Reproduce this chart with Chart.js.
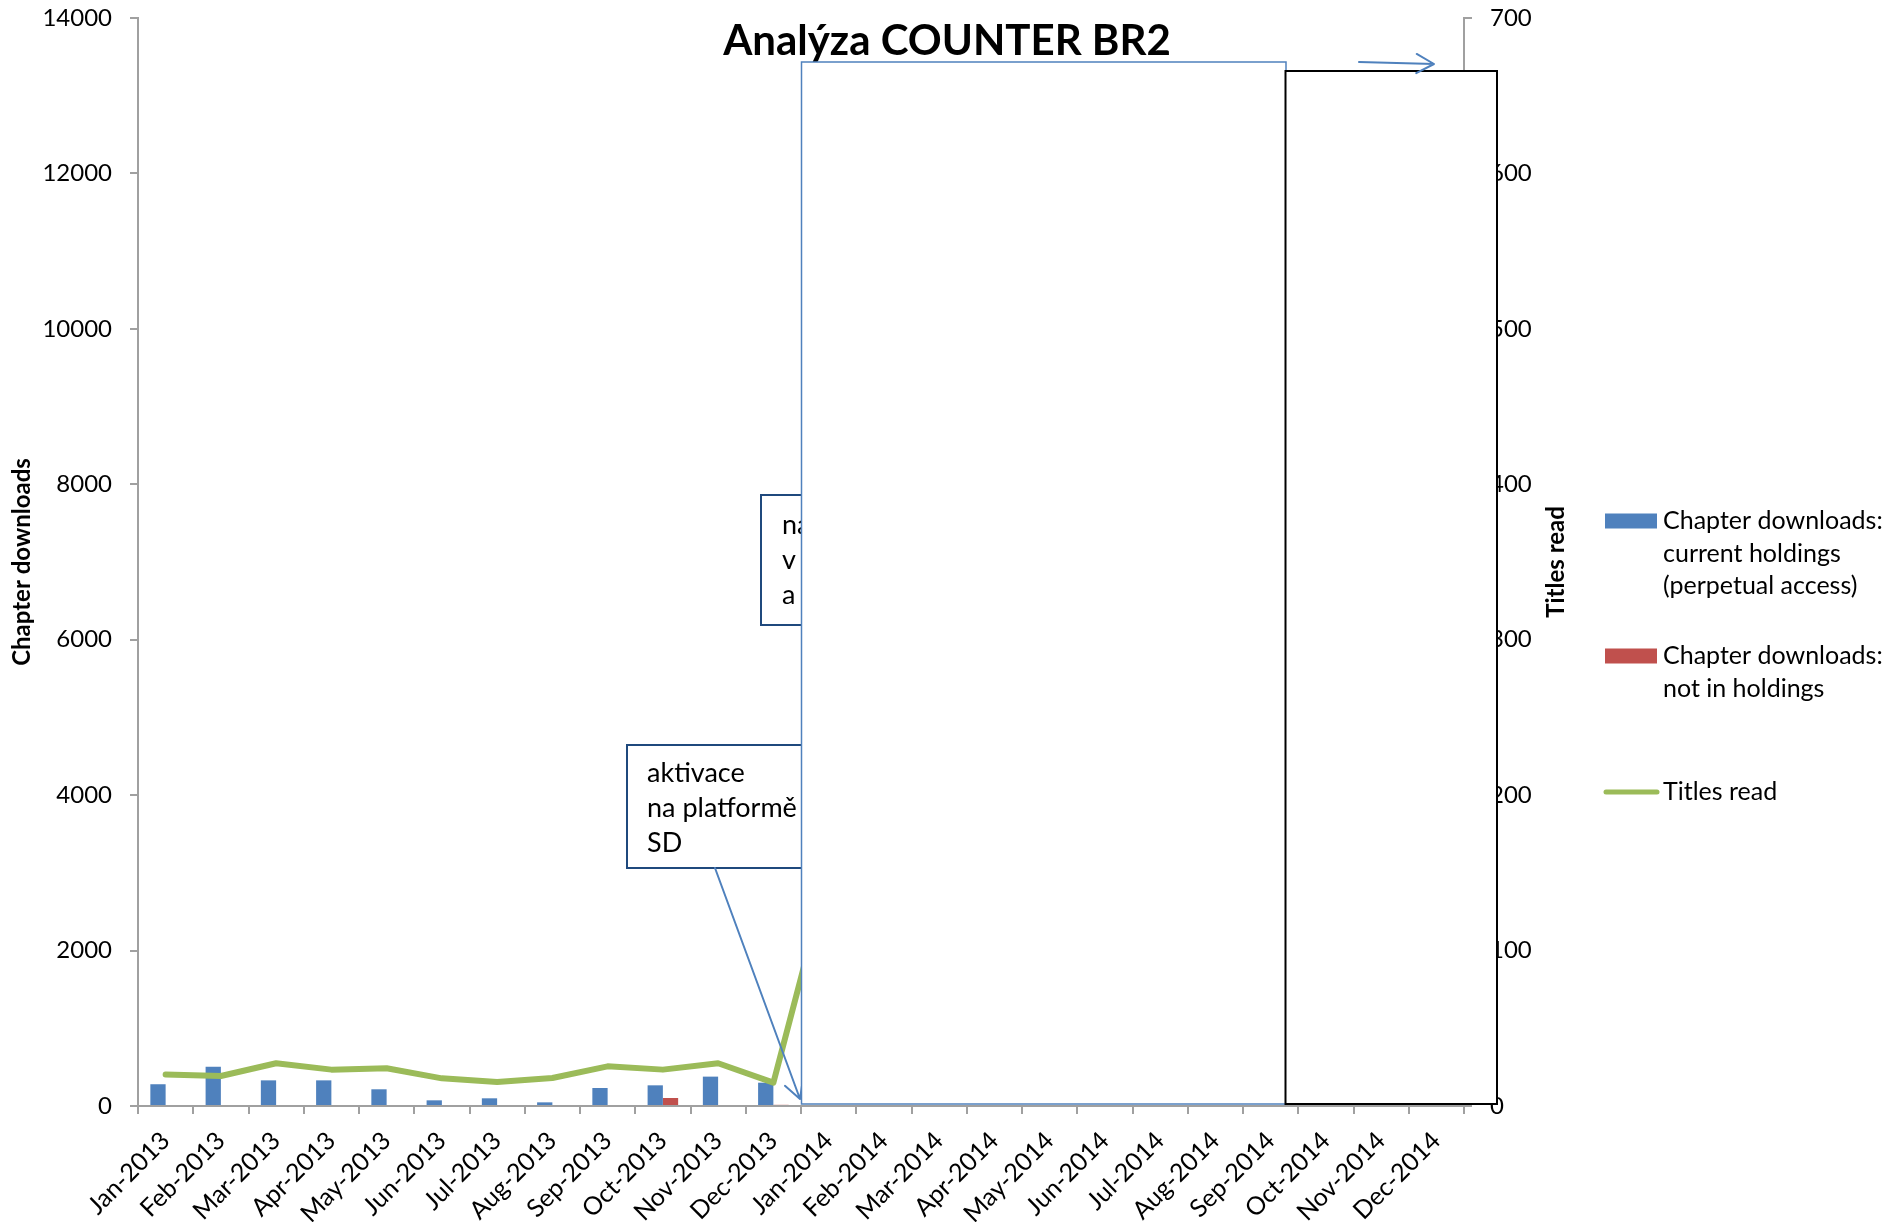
<!DOCTYPE html>
<html>
<head>
<meta charset="utf-8">
<script src="https://cdn.jsdelivr.net/npm/chart.js@4.4.0/dist/chart.umd.min.js"></script>
<style>
  html, body { margin: 0; padding: 0; background: #ffffff; }
  #wrap { width: 1887px; height: 1222px; position: relative; }
</style>
</head>
<body>
<div id="wrap"><canvas id="c" width="1887" height="1222"></canvas></div>
<script>
// ---- data ----
const categories = [
  'Jan-2013','Feb-2013','Mar-2013','Apr-2013','May-2013','Jun-2013',
  'Jul-2013','Aug-2013','Sep-2013','Oct-2013','Nov-2013','Dec-2013',
  'Jan-2014','Feb-2014','Mar-2014','Apr-2014','May-2014','Jun-2014',
  'Jul-2014','Aug-2014','Sep-2014','Oct-2014','Nov-2014','Dec-2014'
];
// Chapter downloads: current holdings (perpetual access) – 2014 hidden under the white boxes
const currentHoldings = [280, 505, 330, 330, 215, 73, 99, 47, 232, 266, 378, 300,
  null, null, null, null, null, null, null, null, null, null, null, null];
// Chapter downloads: not in holdings
const notInHoldings = [0, 0, 0, 0, 0, 0, 0, 0, 0, 103, 0, 15,
  null, null, null, null, null, null, null, null, null, null, null, null];
// Titles read (right axis)
const titlesRead = [20.2, 19.3, 27.5, 23.4, 24.3, 17.8, 15.5, 18, 25.5, 23.4, 27.5, 15,
  150, null, null, null, null, null, null, null, null, null, null, null];

const leftMax = 14000, leftStep = 2000;
const rightMax = 700, rightStep = 100;

const chartTitle = 'Analýza COUNTER BR2';
const leftAxisTitle = 'Chapter downloads';
const rightAxisTitle = 'Titles read';
const legendItems = [
  { lines: ['Chapter downloads:', 'current holdings', '(perpetual access)'], kind: 'bar', color: '#4F81BD' },
  { lines: ['Chapter downloads:', 'not in holdings'], kind: 'bar', color: '#C0504D' },
  { lines: ['Titles read'], kind: 'line', color: '#9BBB59' }
];
const callout1Lines = ['na', 'v', 'a'];
const callout2Lines = ['aktivace', 'na platformě', 'SD'];

// ---- styling ----
const FONT = 'Lato, "Open Sans", sans-serif';
const AXIS_GRAY = '#A0A0A0';
Chart.defaults.font.family = FONT;
Chart.defaults.color = '#000';

function arrow(ctx, x1, y1, x2, y2, wing, color, width) {
  ctx.save();
  ctx.strokeStyle = color;
  ctx.lineWidth = width;
  ctx.lineCap = 'round';
  ctx.lineJoin = 'round';
  ctx.beginPath();
  ctx.moveTo(x1, y1);
  ctx.lineTo(x2, y2);
  const a = Math.atan2(y2 - y1, x2 - x1);
  const spread = 0.5;
  ctx.moveTo(x2 - wing * Math.cos(a - spread), y2 - wing * Math.sin(a - spread));
  ctx.lineTo(x2, y2);
  ctx.lineTo(x2 - wing * Math.cos(a + spread), y2 - wing * Math.sin(a + spread));
  ctx.stroke();
  ctx.restore();
}

function boxWithText(ctx, x, y, w, h, lines, tx, ty0, dy, stroke, lw, size) {
  ctx.save();
  ctx.fillStyle = '#fff';
  ctx.fillRect(x, y, w, h);
  ctx.strokeStyle = stroke;
  ctx.lineWidth = lw;
  ctx.strokeRect(x, y, w, h);
  ctx.fillStyle = '#000';
  ctx.font = size + 'px ' + FONT;
  ctx.textAlign = 'left';
  ctx.textBaseline = 'alphabetic';
  lines.forEach((t, i) => ctx.fillText(t, tx, ty0 + i * dy));
  ctx.restore();
}

const overlay = {
  id: 'overlay',
  afterDraw(chart) {
    const ctx = chart.ctx;
    const area = chart.chartArea;

    // chart title
    ctx.save();
    ctx.fillStyle = '#000';
    ctx.font = 'bold 42px ' + FONT;
    ctx.textAlign = 'center';
    ctx.textBaseline = 'alphabetic';
    ctx.fillText(chartTitle, 947, 55);
    ctx.restore();

    // right axis title (reads bottom to top)
    ctx.save();
    ctx.translate(1556, (area.top + area.bottom) / 2);
    ctx.rotate(-Math.PI / 2);
    ctx.font = 'bold 24px ' + FONT;
    ctx.fillStyle = '#000';
    ctx.textAlign = 'center';
    ctx.textBaseline = 'middle';
    ctx.fillText(rightAxisTitle, 0, 0);
    ctx.restore();

    // callout boxes (partly hidden by the white boxes)
    boxWithText(ctx, 761, 495, 120, 130, callout1Lines, 782, 534, 35, '#1F497D', 2, 27);
    boxWithText(ctx, 627, 745, 200, 123, callout2Lines, 647, 782, 35, '#1F497D', 2, 27);
    arrow(ctx, 715, 868, 800, 1099, 20, '#4F81BD', 2);

    // white covering boxes
    ctx.save();
    ctx.fillStyle = '#fff';
    ctx.fillRect(801.5, 62, 484.5, area.bottom - 2 - 62);
    ctx.strokeStyle = '#4F81BD';
    ctx.lineWidth = 1.5;
    ctx.strokeRect(801.5, 62, 484.5, area.bottom - 2 - 62);
    ctx.fillRect(1285.5, 71, 211.5, area.bottom - 2 - 71);
    ctx.strokeStyle = '#000';
    ctx.lineWidth = 2;
    ctx.strokeRect(1285.5, 71, 211.5, area.bottom - 2 - 71);
    ctx.restore();

    // top arrow
    arrow(ctx, 1359, 62, 1434, 64, 20, '#4F81BD', 2);

    // legend
    ctx.save();
    ctx.font = '25px ' + FONT;
    ctx.textBaseline = 'middle';
    ctx.textAlign = 'left';
    const starts = [521, 656, 792];
    legendItems.forEach((it, k) => {
      const y = starts[k];
      if (it.kind === 'bar') {
        ctx.fillStyle = it.color;
        ctx.fillRect(1605, y - 7.5, 52, 15);
      } else {
        ctx.strokeStyle = it.color;
        ctx.lineWidth = 5;
        ctx.lineCap = 'round';
        ctx.beginPath();
        ctx.moveTo(1606, y);
        ctx.lineTo(1657, y);
        ctx.stroke();
      }
      ctx.fillStyle = '#000';
      it.lines.forEach((t, i) => ctx.fillText(t, 1663, y + i * 32.5));
    });
    ctx.restore();
  }
};

const plain = v => String(v);
const noVPad = s => { s.paddingTop = 0; s.paddingBottom = 0; };

new Chart(document.getElementById('c'), {
  type: 'bar',
  data: {
    labels: categories,
    datasets: [
      {
        type: 'line',
        label: 'Titles read',
        data: titlesRead,
        yAxisID: 'y1',
        borderColor: '#9BBB59',
        backgroundColor: '#9BBB59',
        borderWidth: 6,
        pointRadius: 0,
        tension: 0,
        borderJoinStyle: 'round',
        borderCapStyle: 'round',
        order: 0
      },
      {
        label: 'Chapter downloads: current holdings (perpetual access)',
        data: currentHoldings,
        yAxisID: 'y',
        backgroundColor: '#4F81BD',
        categoryPercentage: 0.553,
        barPercentage: 1,
        order: 1
      },
      {
        label: 'Chapter downloads: not in holdings',
        data: notInHoldings,
        yAxisID: 'y',
        backgroundColor: '#C0504D',
        categoryPercentage: 0.553,
        barPercentage: 1,
        order: 1
      }
    ]
  },
  options: {
    responsive: false,
    animation: false,
    devicePixelRatio: 1,
    layout: { autoPadding: false, padding: { top: 18, left: 0, right: 0, bottom: 0 } },
    plugins: {
      legend: { display: false },
      title: { display: false },
      tooltip: { enabled: false }
    },
    scales: {
      x: {
        offset: true,
        grid: { display: true, offset: true, drawOnChartArea: false, drawTicks: true, tickLength: 8, color: AXIS_GRAY, lineWidth: 2 },
        border: { display: true, color: AXIS_GRAY, width: 2 },
        ticks: { autoSkip: false, maxRotation: 45, minRotation: 45, font: { size: 25 }, color: '#000', padding: 12 },
        afterFit(s) { s.height = 116; s.paddingLeft = 0; s.paddingRight = 0; }
      },
      y: {
        position: 'left',
        min: 0,
        max: leftMax,
        ticks: { stepSize: leftStep, font: { size: 24 }, color: '#000', padding: 18, callback: plain },
        grid: { drawOnChartArea: false, drawTicks: true, tickLength: 8, color: AXIS_GRAY, lineWidth: 2 },
        border: { display: true, color: AXIS_GRAY, width: 2 },
        title: { display: true, text: leftAxisTitle, font: { size: 24, weight: 'bold' }, color: '#000', padding: { top: 8, bottom: 0 } },
        afterFit(s) { s.width = 138; noVPad(s); }
      },
      y1: {
        position: 'right',
        min: 0,
        max: rightMax,
        ticks: { stepSize: rightStep, font: { size: 24 }, color: '#000', padding: 18, callback: plain },
        grid: { drawOnChartArea: false, drawTicks: true, tickLength: 8, color: AXIS_GRAY, lineWidth: 2 },
        border: { display: true, color: AXIS_GRAY, width: 2 },
        afterFit(s) { s.width = 1887 - 1464; noVPad(s); }
      }
    }
  },
  plugins: [overlay]
});
</script>
</body>
</html>
